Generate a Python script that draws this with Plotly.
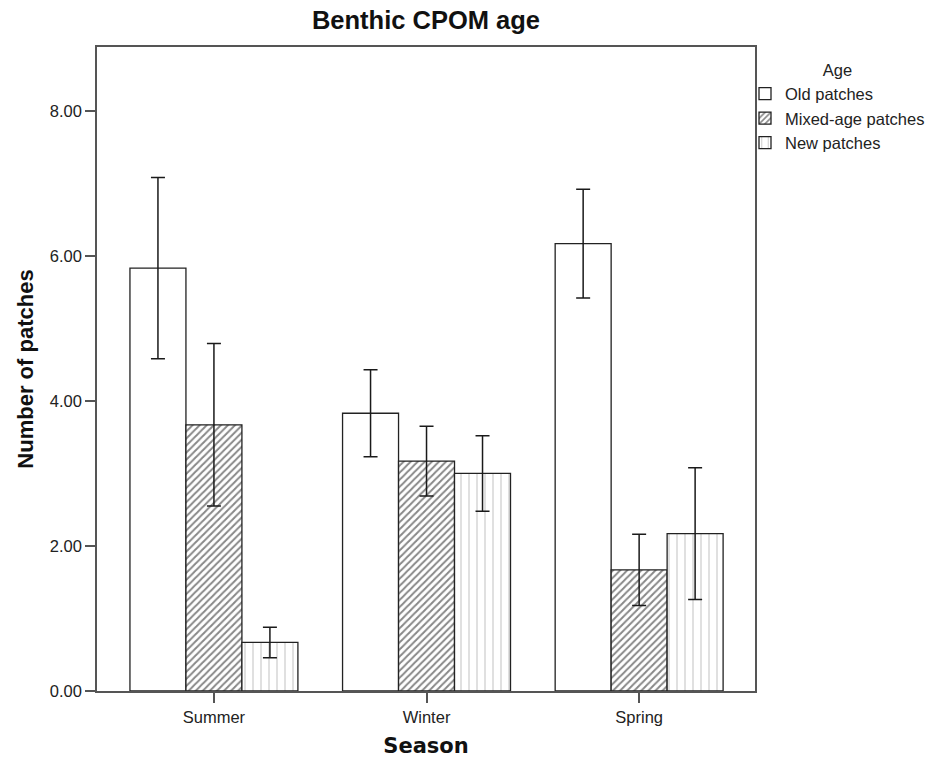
import plotly.graph_objects as go

# Mean number of patches per season and age class, with error half-widths
seasons = ["Summer", "Winter", "Spring"]
age_classes = ["Old patches", "Mixed-age patches", "New patches"]

old_mean = [5.83, 3.83, 6.17]
old_err = [1.25, 0.60, 0.75]
mixed_mean = [3.67, 3.17, 1.67]
mixed_err = [1.12, 0.48, 0.49]
new_mean = [0.67, 3.00, 2.17]
new_err = [0.21, 0.52, 0.91]

y_ticks = [0, 2, 4, 6, 8]
y_tick_text = ["0.00", "2.00", "4.00", "6.00", "8.00"]

means = [old_mean, mixed_mean, new_mean]
errs = [old_err, mixed_err, new_err]
patterns = [
    dict(shape=""),
    dict(shape="/", fgcolor="#111111", bgcolor="white", size=5, solidity=0.4),
    dict(shape="|", fgcolor="#7a7a7a", bgcolor="white", size=8, solidity=0.12),
]

x_pos = list(range(len(seasons)))

fig = go.Figure()
for name, m, e, pat in zip(age_classes, means, errs, patterns):
    fig.add_trace(go.Bar(
        x=x_pos, y=m, name=name,
        marker=dict(color="white", line=dict(color="#222222", width=1.3), pattern=pat),
        error_y=dict(type="data", array=e, visible=True, color="#1a1a1a",
                     thickness=1.5, width=7),
    ))

sans = "Liberation Sans, Arial, sans-serif"
axis_font = dict(family=sans, size=16.5, color="#222222")

W, H = 935, 760
fig.update_layout(
    width=W, height=H,
    paper_bgcolor="white", plot_bgcolor="white",
    margin=dict(l=97, r=180, t=47, b=69, autoexpand=False),
    barmode="group", bargap=0.21, bargroupgap=0,
    title=dict(text="<b>Benthic CPOM age</b>", x=(97 + 755) / 2 / W, xanchor="center",
               y=1 - 20 / H, yanchor="middle",
               font=dict(family=sans, size=25.5, color="#111111")),
    xaxis=dict(
        range=[-0.55, 2.545], tickvals=x_pos, ticktext=seasons,
        automargin=False,
        showgrid=False, zeroline=False, showline=True, mirror=True,
        linecolor="#555555", linewidth=1.5,
        ticks="outside", ticklen=10, tickwidth=1.5, tickcolor="#555555",
        tickfont=axis_font,
        title=dict(text="<b>Season</b>", standoff=14,
                   font=dict(family="DejaVu Sans, Verdana, sans-serif", size=21, color="#111111")),
    ),
    yaxis=dict(
        range=[0, 8.88], tickvals=y_ticks, ticktext=y_tick_text,
        automargin=False,
        showgrid=False, zeroline=False, showline=True, mirror=True,
        linecolor="#555555", linewidth=1.5,
        ticks="outside", ticklen=10, tickwidth=1.5, tickcolor="#555555",
        tickfont=axis_font,
        title=dict(text="<b>Number of patches</b>", standoff=10,
                   font=dict(family=sans, size=22, color="#111111")),
    ),
    legend=dict(
        xref="container", yref="container",
        x=745 / W, xanchor="left", y=1 - 55 / H, yanchor="top",
        title=dict(text="Age", side="top center",
                   font=dict(family=sans, size=16.5, color="#222222")),
        font=dict(family=sans, size=16.5, color="#222222"),
        bgcolor="rgba(0,0,0,0)", tracegroupgap=0, itemwidth=30,
    ),
    showlegend=True,
)

fig.write_html("out.html")
